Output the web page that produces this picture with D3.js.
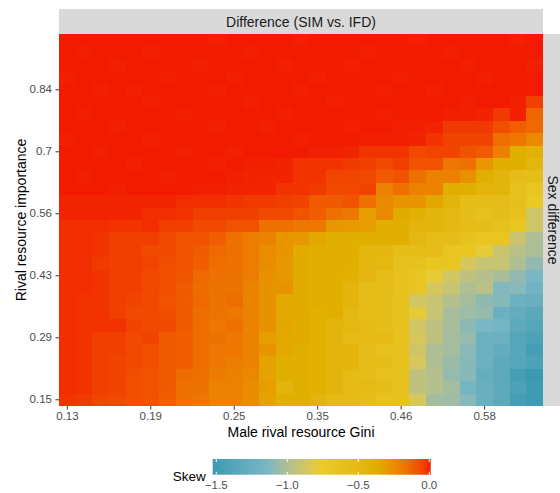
<!DOCTYPE html>
<html><head><meta charset="utf-8">
<script src="https://cdn.jsdelivr.net/npm/d3@7"></script>
<style>
body{margin:0;background:#fff}
text{font-family:"Liberation Sans",Arial,Helvetica,sans-serif}
</style>
</head><body>
<svg id="chart" width="560" height="493"></svg>
<script>
// ---- data ----
const nCols = 29;   // male rival resource Gini levels
const nRows = 30;   // rival resource importance levels
const xTickIndex = [0, 5, 10, 15, 20, 25];
const xTickLabels = ["0.13", "0.19", "0.25", "0.35", "0.46", "0.58"];
const yTickIndex = [0, 5, 10, 15, 20, 25];   // counted from bottom row
const yTickLabels = ["0.15", "0.29", "0.43", "0.56", "0.7", "0.84"];
const legendTicks = [-1.5, -1.0, -0.5, 0.0];
const palette = ["#3B9AB2", "#78B7C5", "#EBCC2A", "#E1AF00", "#F21A00"];

// skew values, rows listed from top (highest importance) to bottom
const skewRows = [
[0.01,0.01,0.01,0.01,0.01,0.01,0.01,0.01,0.01,0.005,0.01,0.01,0.01,0.01,0.005,0.01,0.01,0.01,0.01,0.01,0.01,0.005,0.01,0.01,0.01,0.01,0.01,0.005,0.01],
[0.01,0.005,0.01,0.01,0.01,0.005,0.01,0.01,0.01,0.01,0.01,0.005,0.01,0.01,0.01,0.01,0.01,0.01,0.005,0.01,0.01,0.01,0.01,0.005,0.01,0.01,0.01,0.01,0.01],
[0.01,0.01,0.01,0.005,0.01,0.01,0.01,0.01,0.005,0.01,0.01,0.01,0.01,0.005,0.01,0.01,0.01,0.005,0.01,0.01,0.01,0.01,0.01,0.01,0.005,0.01,0.01,0.01,0.005],
[0.005,0.01,0.01,0.01,0.01,0.01,0.005,0.01,0.01,0.01,0.005,0.01,0.01,0.01,0.01,0.005,0.01,0.01,0.01,0.01,0.005,0.01,0.01,0.01,0.01,0.005,0.01,0.01,0.01],
[0.01,0.01,0.005,0.01,0.005,0.01,0.01,0.01,0.01,0.005,0.01,0.01,0.01,0.01,0.005,0.01,0.01,0.01,0.01,0.005,0.01,0.01,0.005,0.01,0.01,0.01,0.01,0.01,0.01],
[0.01,0.01,0.01,0.01,0.01,0.005,0.01,0.01,0.01,0.01,0.01,0.005,0.01,0.01,0.01,0.01,0.005,0.01,0.01,0.01,0.01,0.01,0.01,0.01,0.005,0.01,0.01,0.005,-0.04],
[0.01,0.005,0.01,0.01,0.01,0.01,0.01,0.005,0.01,0.01,0.01,0.01,0.01,0.005,0.01,0.01,0.01,0.01,0.01,0.005,0.01,0.01,0.01,0.005,0.005,0,-0.03,0.005,-0.13],
[0.01,0.01,0.01,0.005,0.01,0.01,0.01,0.01,0.01,0.005,0.01,0.01,0.005,0.01,0.01,0.01,0.01,0.005,0.01,0.01,0.005,0.005,0,-0.03,-0.03,-0.03,-0.07,-0.11,-0.14],
[0.005,0.01,0.01,0.01,0.01,0.005,0.01,0.01,0.01,0.01,0.01,0.01,0.01,0.01,0.005,0.01,0.01,0.01,0.005,0.005,0.005,0,-0.02,-0.05,-0.05,-0.05,-0.16,-0.18,-0.24],
[0.01,0.01,0.005,0.01,0.01,0.01,0.01,0.005,0.01,0.01,0.005,0.01,0.01,0.01,0.01,0.005,0.005,0,-0.02,-0.02,-0.02,-0.06,-0.05,-0.05,-0.08,-0.10,-0.21,-0.375,-0.40],
[0.01,0.01,0.01,0.01,0.005,0.01,0.01,0.01,0.01,0.005,0.01,0.005,0.005,0,-0.02,-0.02,-0.02,-0.03,-0.04,-0.06,-0.04,-0.08,-0.08,-0.18,-0.16,-0.29,-0.375,-0.375,-0.46],
[0.01,0.005,0.01,0.01,0.01,0.01,0.005,0.01,0.01,0.01,0.005,0,0,0,-0.02,-0.02,-0.05,-0.05,-0.06,-0.10,-0.08,-0.16,-0.21,-0.21,-0.26,-0.375,-0.44,-0.55,-0.57],
[0.01,0.01,0.01,0.005,0.01,0.01,0.01,0.01,0.005,0.005,0,0,0,-0.02,-0.02,-0.03,-0.06,-0.06,-0.05,-0.21,-0.16,-0.22,-0.22,-0.375,-0.375,-0.44,-0.44,-0.61,-0.66],
[0,0,0,0,0,0,0,-0.01,-0.01,-0.01,-0.02,-0.03,-0.03,-0.04,-0.05,-0.10,-0.10,-0.08,-0.16,-0.24,-0.28,-0.28,-0.345,-0.44,-0.545,-0.55,-0.55,-0.60,-0.71],
[0,0,0,0,0,-0.01,-0.01,-0.02,-0.04,-0.04,-0.04,-0.04,-0.06,-0.06,-0.08,-0.11,-0.16,-0.18,-0.31,-0.24,-0.36,-0.40,-0.44,-0.49,-0.57,-0.61,-0.57,-0.61,-0.88],
[-0.01,-0.01,-0.01,-0.02,-0.02,-0.01,-0.04,-0.04,-0.06,-0.06,-0.08,-0.08,-0.16,-0.16,-0.18,-0.18,-0.29,-0.30,-0.31,-0.375,-0.375,-0.44,-0.44,-0.49,-0.545,-0.57,-0.61,-0.66,-0.88],
[-0.01,-0.01,-0.02,-0.04,-0.04,-0.04,-0.06,-0.08,-0.08,-0.11,-0.16,-0.20,-0.22,-0.28,-0.29,-0.345,-0.375,-0.375,-0.375,-0.375,-0.375,-0.49,-0.545,-0.545,-0.61,-0.66,-0.66,-0.90,-1.00],
[-0.01,-0.01,-0.02,-0.04,-0.04,-0.06,-0.06,-0.08,-0.10,-0.14,-0.16,-0.20,-0.25,-0.28,-0.36,-0.375,-0.375,-0.375,-0.46,-0.47,-0.57,-0.545,-0.545,-0.66,-0.66,-0.78,-0.90,-0.96,-1.01],
[-0.01,-0.01,-0.03,-0.04,-0.04,-0.05,-0.07,-0.08,-0.11,-0.15,-0.16,-0.20,-0.25,-0.29,-0.36,-0.375,-0.375,-0.375,-0.47,-0.49,-0.61,-0.61,-0.66,-0.66,-0.85,-0.91,-0.91,-0.995,-1.08],
[-0.01,-0.01,-0.02,-0.04,-0.04,-0.06,-0.07,-0.09,-0.14,-0.16,-0.17,-0.20,-0.27,-0.29,-0.36,-0.375,-0.375,-0.40,-0.47,-0.545,-0.61,-0.66,-0.78,-0.87,-0.94,-0.97,-1.02,-1.08,-1.14],
[-0.01,-0.01,-0.02,-0.04,-0.04,-0.06,-0.07,-0.10,-0.15,-0.17,-0.17,-0.22,-0.27,-0.27,-0.36,-0.375,-0.375,-0.44,-0.545,-0.545,-0.61,-0.66,-0.85,-0.91,-0.995,-0.96,-1.12,-1.105,-1.19],
[-0.01,-0.02,-0.02,-0.04,-0.05,-0.06,-0.08,-0.10,-0.14,-0.17,-0.15,-0.22,-0.27,-0.35,-0.36,-0.375,-0.375,-0.44,-0.545,-0.57,-0.61,-0.87,-0.91,-0.98,-1.03,-1.09,-1.11,-1.22,-1.24],
[-0.01,-0.02,-0.02,-0.04,-0.06,-0.06,-0.07,-0.10,-0.15,-0.17,-0.18,-0.22,-0.27,-0.35,-0.36,-0.40,-0.375,-0.49,-0.545,-0.57,-0.61,-0.78,-0.91,-1.02,-1.05,-1.07,-1.22,-1.28,-1.34],
[-0.01,-0.02,-0.02,-0.02,-0.05,-0.06,-0.06,-0.10,-0.15,-0.18,-0.16,-0.22,-0.27,-0.34,-0.36,-0.40,-0.44,-0.49,-0.52,-0.57,-0.61,-0.87,-0.94,-1.02,-1.095,-1.14,-1.17,-1.32,-1.37],
[-0.01,-0.02,-0.04,-0.04,-0.06,-0.05,-0.10,-0.11,-0.15,-0.17,-0.18,-0.22,-0.31,-0.35,-0.36,-0.40,-0.44,-0.52,-0.52,-0.52,-0.61,-0.85,-0.94,-1.03,-1.07,-1.22,-1.22,-1.37,-1.42],
[-0.01,-0.02,-0.04,-0.04,-0.06,-0.07,-0.10,-0.11,-0.15,-0.18,-0.18,-0.22,-0.28,-0.35,-0.375,-0.40,-0.44,-0.44,-0.545,-0.61,-0.61,-0.88,-0.995,-1.03,-1.105,-1.22,-1.28,-1.37,-1.47],
[-0.01,-0.02,-0.04,-0.05,-0.06,-0.07,-0.10,-0.11,-0.15,-0.18,-0.20,-0.22,-0.33,-0.375,-0.375,-0.40,-0.44,-0.44,-0.545,-0.57,-0.61,-0.85,-0.995,-1.06,-1.11,-1.22,-1.32,-1.37,-1.42],
[-0.01,-0.02,-0.04,-0.05,-0.07,-0.08,-0.10,-0.15,-0.16,-0.20,-0.21,-0.24,-0.33,-0.375,-0.375,-0.40,-0.44,-0.52,-0.545,-0.61,-0.61,-0.94,-0.98,-1.07,-1.11,-1.27,-1.32,-1.47,-1.525],
[-0.01,-0.02,-0.04,-0.05,-0.07,-0.08,-0.10,-0.16,-0.17,-0.22,-0.21,-0.25,-0.32,-0.44,-0.375,-0.40,-0.44,-0.52,-0.52,-0.57,-0.61,-0.94,-0.98,-1.03,-1.17,-1.24,-1.32,-1.42,-1.51],
[-0.02,-0.03,-0.05,-0.06,-0.07,-0.08,-0.11,-0.16,-0.18,-0.22,-0.22,-0.25,-0.33,-0.375,-0.375,-0.44,-0.52,-0.52,-0.545,-0.61,-0.61,-0.85,-1.03,-1.05,-1.11,-1.24,-1.32,-1.47,-1.51]
];

// ---- layout ----
const panel = {left: 59, right: 543, top: 34, bottom: 406};
const svg = d3.select("#chart");

const cells = [];
skewRows.forEach((row, r) => row.forEach((v, c) => cells.push({col: c, row: nRows - 1 - r, value: v})));

const x = d3.scaleBand().domain(d3.range(nCols)).range([panel.left, panel.right]).padding(0);
const y = d3.scaleBand().domain(d3.range(nRows)).range([panel.bottom, panel.top]).padding(0);

const ext = d3.extent(cells, d => d.value);
const stops = palette.map((_, i) => ext[0] + (ext[1] - ext[0]) * i / (palette.length - 1));
const color = d3.scaleLinear().domain(stops).range(palette).interpolate(d3.interpolateLab);

// tiles (edges snapped to whole pixels so no seams show)
svg.append("g").attr("shape-rendering", "crispEdges").selectAll("rect").data(cells).join("rect")
  .attr("x", d => Math.round(x(d.col)))
  .attr("y", d => Math.round(y(d.row)))
  .attr("width", d => Math.round(x(d.col) + x.bandwidth()) - Math.round(x(d.col)))
  .attr("height", d => Math.round(y(d.row) + y.bandwidth()) - Math.round(y(d.row)))
  .attr("fill", d => color(d.value));

// top strip
svg.append("rect").attr("x", panel.left).attr("y", 9).attr("width", panel.right - panel.left).attr("height", panel.top - 9).attr("fill", "#D9D9D9");
svg.append("text").attr("x", (panel.left + panel.right) / 2).attr("y", 26.8).attr("text-anchor", "middle")
  .attr("font-size", 14).attr("fill", "#1A1A1A").text("Difference (SIM vs. IFD)");

// right strip
svg.append("rect").attr("x", panel.right).attr("y", panel.top).attr("width", 20).attr("height", panel.bottom - panel.top).attr("fill", "#D9D9D9");
svg.append("text").attr("transform", `translate(548,${(panel.top + panel.bottom) / 2}) rotate(90)`)
  .attr("text-anchor", "middle").attr("font-size", 14).attr("fill", "#1A1A1A").text("Sex difference");

// axes
const xAxis = d3.axisBottom(x).tickValues(xTickIndex).tickFormat((d, i) => xTickLabels[i]).tickSize(3.5).tickPadding(2);
const gx = svg.append("g").attr("transform", `translate(0,${panel.bottom})`).call(xAxis);
const yAxis = d3.axisLeft(y).tickValues(yTickIndex).tickFormat((d, i) => yTickLabels[i]).tickSize(3.5).tickPadding(3.5);
const gy = svg.append("g").attr("transform", `translate(${panel.left},0)`).call(yAxis);
[gx, gy].forEach(g => {
  g.select(".domain").remove();
  g.selectAll(".tick line").attr("stroke", "#333333").attr("stroke-width", 1);
  g.selectAll(".tick text").attr("fill", "#4D4D4D").attr("font-size", 11.5)
    .attr("font-family", "'Liberation Sans',Arial,sans-serif");
});

// axis titles
svg.append("text").attr("x", (panel.left + panel.right) / 2).attr("y", 436.8).attr("text-anchor", "middle")
  .attr("font-size", 14).attr("fill", "#000").text("Male rival resource Gini");
svg.append("text").attr("transform", `translate(25.5,${(panel.top + panel.bottom) / 2}) rotate(-90)`)
  .attr("text-anchor", "middle").attr("font-size", 14).attr("fill", "#000").text("Rival resource importance");

// legend
const lg = {x0: 212.7, x1: 430.7, y0: 459, y1: 474.7};
const lx = d3.scaleLinear().domain(ext).range([lg.x0, lg.x1]);
const defs = svg.append("defs");
const grad = defs.append("linearGradient").attr("id", "skewGrad").attr("x1", "0%").attr("x2", "100%").attr("y1", "0%").attr("y2", "0%");
d3.range(0, 1.0001, 0.02).forEach(t => {
  grad.append("stop").attr("offset", (t * 100) + "%").attr("stop-color", color(ext[0] + t * (ext[1] - ext[0])));
});
svg.append("rect").attr("x", lg.x0).attr("y", lg.y0).attr("width", lg.x1 - lg.x0).attr("height", lg.y1 - lg.y0).attr("fill", "url(#skewGrad)");
legendTicks.forEach(t => {
  const px = lx(t);
  svg.append("line").attr("x1", px).attr("x2", px).attr("y1", lg.y0).attr("y2", lg.y0 + 3).attr("stroke", "#fff").attr("stroke-width", 1);
  svg.append("line").attr("x1", px).attr("x2", px).attr("y1", lg.y1 - 3).attr("y2", lg.y1).attr("stroke", "#fff").attr("stroke-width", 1);
  svg.append("text").attr("x", px).attr("y", 489).attr("text-anchor", "middle").attr("font-size", 11.5).attr("fill", "#4D4D4D")
    .text(d3.format(".1f")(t));
});
svg.append("text").attr("x", 172.7).attr("y", 480.5).attr("font-size", 13.5).attr("fill", "#000").text("Skew");
</script>
</body></html>
